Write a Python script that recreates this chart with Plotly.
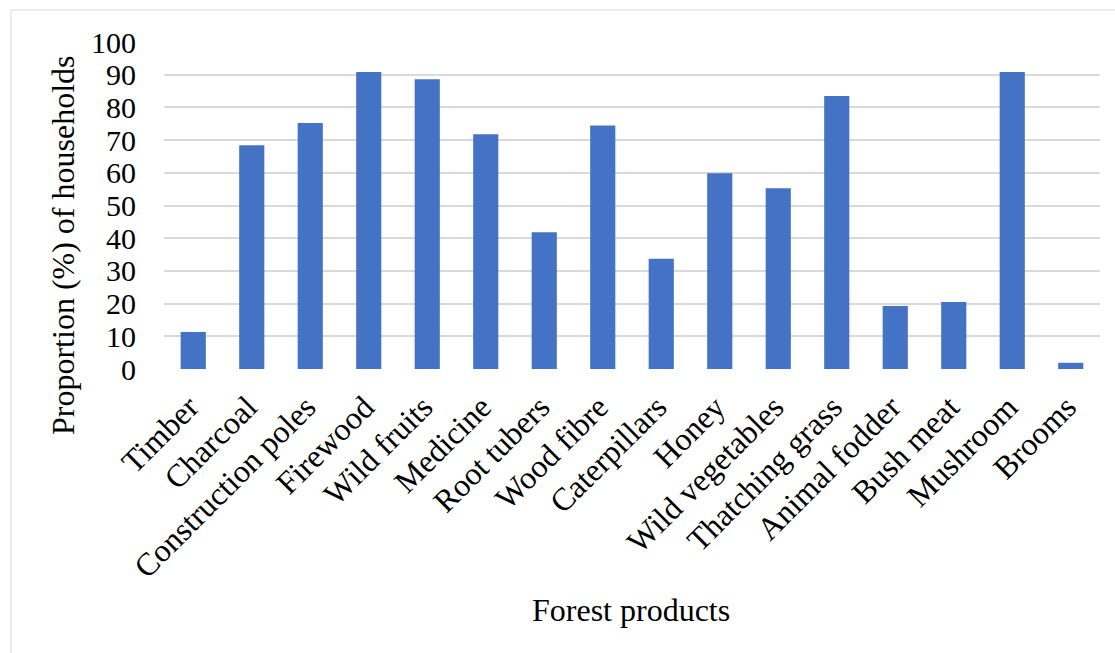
import plotly.graph_objects as go

# Forest products used by households
products = [
    "Timber", "Charcoal", "Construction poles", "Firewood", "Wild fruits",
    "Medicine", "Root tubers", "Wood fibre", "Caterpillars", "Honey",
    "Wild vegetables", "Thatching grass", "Animal fodder", "Bush meat",
    "Mushroom", "Brooms",
]
proportion = [
    11.3, 68.4, 75.2, 90.8, 88.6,
    71.8, 41.8, 74.5, 33.7, 59.9,
    55.3, 83.5, 19.3, 20.5, 90.8, 1.9,
]
y_ticks = [0, 10, 20, 30, 40, 50, 60, 70, 80, 90, 100]

W, H = 1115, 653
L, R, T, B = 164, 15, 42, 284
pw, ph = W - L - R, H - T - B

FONT = "Liberation Serif"

fig = go.Figure(
    go.Bar(
        x=products,
        y=proportion,
        marker=dict(color="#4472C4", line=dict(width=0)),
        hoverinfo="x+y",
    )
)

def px_to_paper_x(px):
    return (px - L) / pw

def px_to_paper_y(py):
    return (H - B - py) / ph

fig.update_layout(
    width=W,
    height=H,
    margin=dict(l=L, r=R, t=T, b=B),
    paper_bgcolor="white",
    plot_bgcolor="white",
    bargap=0.57,
    showlegend=False,
    font=dict(family=FONT, size=30, color="black"),
    xaxis=dict(
        tickangle=-45,
        tickfont=dict(family=FONT, size=32, color="black"),
        showgrid=False,
        showline=False,
        zeroline=False,
        ticks="",
        ticklabelstandoff=12,
        ticklabelshift=-4,
    ),
    yaxis=dict(
        range=[0, 100],
        tickvals=y_ticks,
        tickfont=dict(family=FONT, size=30, color="black"),
        showgrid=True,
        gridcolor="#d9d9d9",
        gridwidth=1.5,
        showline=False,
        zeroline=False,
        ticks="",
        ticklabelstandoff=27,
    ),
    annotations=[
        dict(
            text="Proportion (%) of households",
            x=px_to_paper_x(63), y=px_to_paper_y(245),
            xref="paper", yref="paper",
            xanchor="center", yanchor="middle",
            textangle=-90, showarrow=False,
            font=dict(family=FONT, size=32, color="black"),
        ),
        dict(
            text="Forest products",
            x=px_to_paper_x(631), y=px_to_paper_y(610),
            xref="paper", yref="paper",
            xanchor="center", yanchor="middle",
            showarrow=False,
            font=dict(family=FONT, size=32, color="black"),
        ),
    ],
    shapes=[
        dict(
            type="rect", xref="paper", yref="paper",
            x0=px_to_paper_x(11), x1=px_to_paper_x(W + 20),
            y0=px_to_paper_y(H + 20), y1=px_to_paper_y(10),
            line=dict(color="#d9d9d9", width=1),
            fillcolor="rgba(0,0,0,0)",
            layer="below",
        )
    ],
)

fig.write_html("out.html")
